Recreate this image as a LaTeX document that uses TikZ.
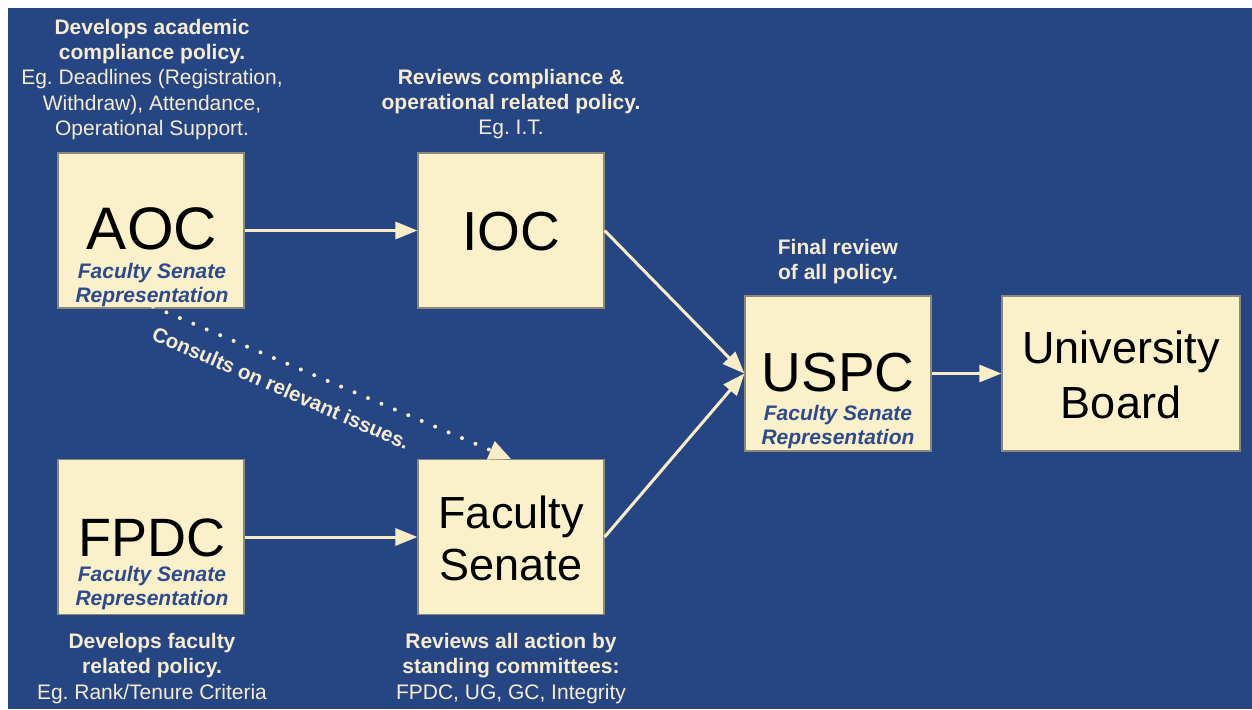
\documentclass[tikz,border=0pt]{standalone}
\usepackage{fontspec}
\setmainfont{Liberation Sans}
\frenchspacing
\usetikzlibrary{arrows.meta}
\definecolor{bg}{HTML}{254682}
\definecolor{cream}{HTML}{FAF0C9}
\definecolor{boxline}{HTML}{8C8878}
\definecolor{arrowc}{HTML}{F8EDC6}
\definecolor{txtc}{HTML}{F6ECD2}
\definecolor{repc}{HTML}{2D4B8C}
\tikzset{
  box/.style={draw=boxline, line width=1.2pt, fill=cream, inner sep=0pt, minimum height=155pt},
  big/.style={inner sep=0pt, text=black, align=center},
  rep/.style={inner sep=0pt, text=repc, align=center, font=\fontsize{21}{24.5}\selectfont\bfseries\itshape},
  note/.style={inner sep=0pt, text=txtc, align=center, font=\fontsize{21}{25.3}\selectfont},
  conn/.style={draw=arrowc, line width=3pt, -{Triangle[length=22pt,width=17pt]}},
  dotconn/.style={draw=arrowc, line width=4pt, line cap=round, dash pattern=on 0pt off 14.6pt, -{Triangle[length=22pt,width=19pt]}}
}
\begin{document}
\begin{tikzpicture}[x=1pt,y=-1pt]
\useasboundingbox (0,0) rectangle (1252,709);
\fill[white] (0,0) rectangle (1252,709);
\fill[bg] (8,8) rectangle (1252,709);

% boxes
\node[box, minimum width=186pt] (aoc) at (151,230.5) {};
\node[box, minimum width=186pt] (ioc) at (511,230.5) {};
\node[box, minimum width=186pt] (fpdc) at (151,537) {};
\node[box, minimum width=186pt] (fs) at (511,537) {};
\node[box, minimum width=186pt] (uspc) at (838,373.5) {};
\node[box, minimum width=238pt] (ub) at (1121,373.5) {};

% box texts
\node[big, font=\fontsize{60}{60}\selectfont] (aoct) at (152,229) {AOC};
\node[rep] (aocr) at (152,285) {Faculty Senate\\Representation};
\node[big, font=\fontsize{55}{55}\selectfont] (ioct) at (511,232) {IOC};
\node[big, font=\fontsize{54}{54}\selectfont] (fpdct) at (152,538) {FPDC};
\node[rep] (fpdcr) at (152,588) {Faculty Senate\\Representation};
\node[big, font=\fontsize{45}{52}\selectfont] (fst) at (511,538) {Faculty\\Senate};
\node[big, font=\fontsize{55}{55}\selectfont] (uspct) at (838,373) {USPC};
\node[rep] (uspcr) at (838,427) {Faculty Senate\\Representation};
\node[big, font=\fontsize{45}{55}\selectfont] (ubt) at (1121,375) {University\\Board};

% notes
\node[note] (aocn) at (152,79.5) {\textbf{Develops academic}\\\textbf{compliance policy.}\\Eg. Deadlines (Registration,\\Withdraw), Attendance,\\Operational Support.};
\node[note] (iocn) at (511,104) {\textbf{Reviews compliance \&}\\\textbf{operational related policy.}\\Eg. I.T.};
\node[note] (uspcn) at (838,261.5) {\textbf{Final review}\\\textbf{of all policy.}};
\node[note] (fpdcn) at (152,668.5) {\textbf{Develops faculty}\\\textbf{related policy.}\\Eg. Rank/Tenure Criteria};
\node[note] (fsn) at (511,668.5) {\textbf{Reviews all action by}\\\textbf{standing committees:}\\FPDC, UG, GC, Integrity};

% connectors
\draw[conn] (aoc.east) -- (ioc.west);
\draw[conn] (fpdc.east) -- (fs.west);
\draw[conn] (ioc.east) -- (uspc.west);
\draw[conn] (fs.east) -- (uspc.west);
\draw[conn] (uspc.east) -- (ub.west);
\draw[dotconn] ([xshift=2pt,yshift=2pt]aoc.south) -- (fs.north);
\node[note, font=\fontsize{20.5}{24}\selectfont\bfseries, rotate=-23.5] (lbl) at (281,388) {Consults on relevant issues.};
\end{tikzpicture}
\end{document}
